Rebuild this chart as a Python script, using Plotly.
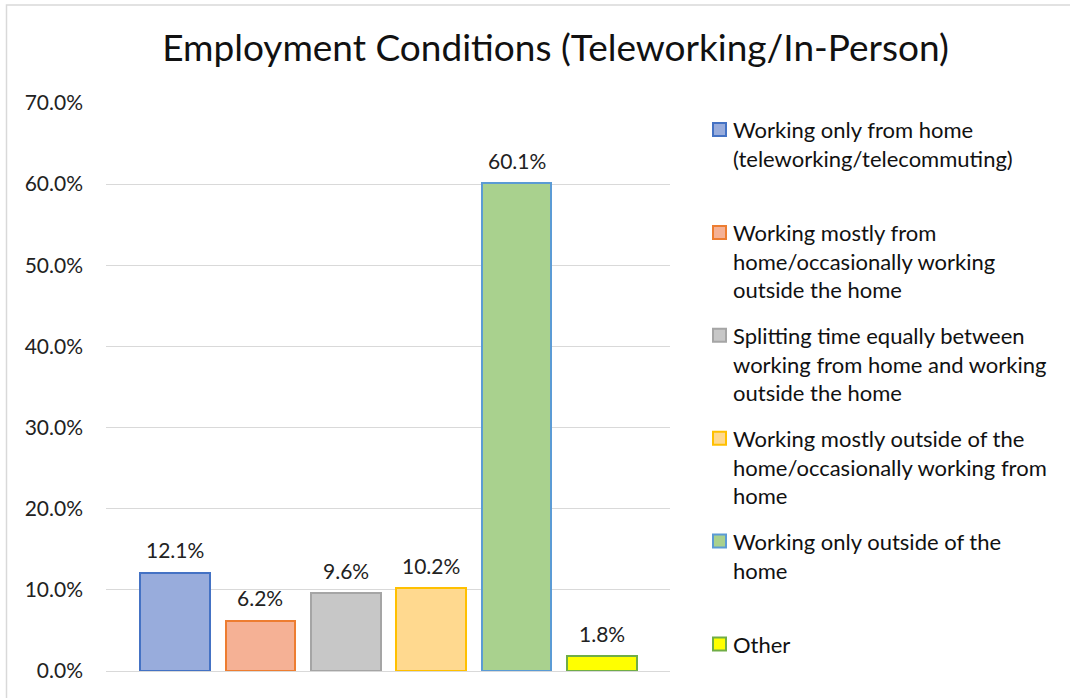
import plotly.graph_objects as go

# ---- data ----
categories = [
    "Working only from home (teleworking/telecommuting)",
    "Working mostly from home/occasionally working outside the home",
    "Splitting time equally between working from home and working outside the home",
    "Working mostly outside of the home/occasionally working from home",
    "Working only outside of the home",
    "Other",
]
legend_labels = [
    "Working only from home<br>(teleworking/telecommuting)",
    "Working mostly from<br>home/occasionally working<br>outside the home",
    "Splitting time equally between<br>working from home and working<br>outside the home",
    "Working mostly outside of the<br>home/occasionally working from<br>home",
    "Working only outside of the<br>home",
    "Other",
]
values = [12.1, 6.2, 9.6, 10.2, 60.1, 1.8]
y_ticks = [0, 10, 20, 30, 40, 50, 60, 70]
y_tick_labels = [f"{v:.1f}%" for v in y_ticks]

fill_colors = ["#98acdc", "#f5b195", "#c7c7c7", "#ffd98f", "#a9d18e", "#ffff00"]
line_colors = ["#4472c4", "#ed7d31", "#a5a5a5", "#ffc000", "#5b9bd5", "#70ad47"]

FONT = "Lato"
W, H = 1070, 698
ML, MR, MT, MB = 106, 400, 102.5, 27
PW = W - ML - MR
PH = H - MT - MB


def px_x(x):
    return (x - ML) / PW


def px_y(y):
    return (H - MB - y) / PH


fig = go.Figure()
fig.add_trace(go.Bar(
    x=categories,
    y=values,
    width=0.815,
    marker=dict(color=fill_colors, line=dict(color=line_colors, width=2)),
    showlegend=False,
    hoverinfo="x+y",
))

# data labels
for c, v in zip(categories, values):
    fig.add_annotation(
        x=c, y=v, xref="x", yref="y", text=f"{v:.1f}%", showarrow=False,
        yanchor="middle", yshift=23,
        font=dict(family=FONT, size=21, color="#222222"),
    )

# custom legend (symbol aligned with first line, as in the reference)
for i, (lab, fc, lc) in enumerate(zip(legend_labels, fill_colors, line_colors)):
    cy = 129 + 103 * i
    fig.add_shape(
        type="rect", xref="paper", yref="paper",
        x0=px_x(713), x1=px_x(726), y0=px_y(cy - 6.5), y1=px_y(cy + 6.5),
        fillcolor=fc, line=dict(color=lc, width=2),
    )
    fig.add_annotation(
        x=px_x(731), y=px_y(cy - 15.5), xref="paper", yref="paper",
        text=lab, showarrow=False, xanchor="left", yanchor="top", align="left",
        font=dict(family=FONT, size=22, color="#111111"),
    )

# chart frame
fig.add_shape(
    type="rect", xref="paper", yref="paper",
    x0=px_x(6.5), x1=px_x(W + 5), y0=px_y(H + 5), y1=px_y(4.5),
    line=dict(color="#d9d9d9", width=1.5), fillcolor="rgba(0,0,0,0)", layer="below",
)

fig.update_layout(
    width=W, height=H,
    margin=dict(l=ML, r=MR, t=MT, b=MB, pad=0),
    paper_bgcolor="white", plot_bgcolor="white",
    title=dict(
        text="Employment Conditions (Teleworking/In-Person)",
        x=555.5 / W, xanchor="center", xref="container",
        y=1 - 48 / H, yanchor="middle", yref="container",
        font=dict(family=FONT, size=37, color="#111111"),
    ),
    font=dict(family=FONT),
    bargap=0,
)
fig.update_xaxes(
    range=[-0.808, 5.796], showticklabels=False, showgrid=False,
    showline=False, zeroline=False, ticks="",
)
fig.update_yaxes(
    range=[0, 70], tickvals=y_ticks, ticktext=y_tick_labels,
    showgrid=True, gridcolor="#d9d9d9", gridwidth=1,
    zeroline=True, zerolinecolor="#d9d9d9", zerolinewidth=1,
    showline=False, ticks="", ticklabelstandoff=22,
    tickfont=dict(family=FONT, size=21, color="#222222"),
)

fig.write_html(
    "out.html",
    config={"displayModeBar": False},
    post_script="document.body.style.margin='0';document.body.style.padding='0';document.body.style.overflow='hidden';",
)
